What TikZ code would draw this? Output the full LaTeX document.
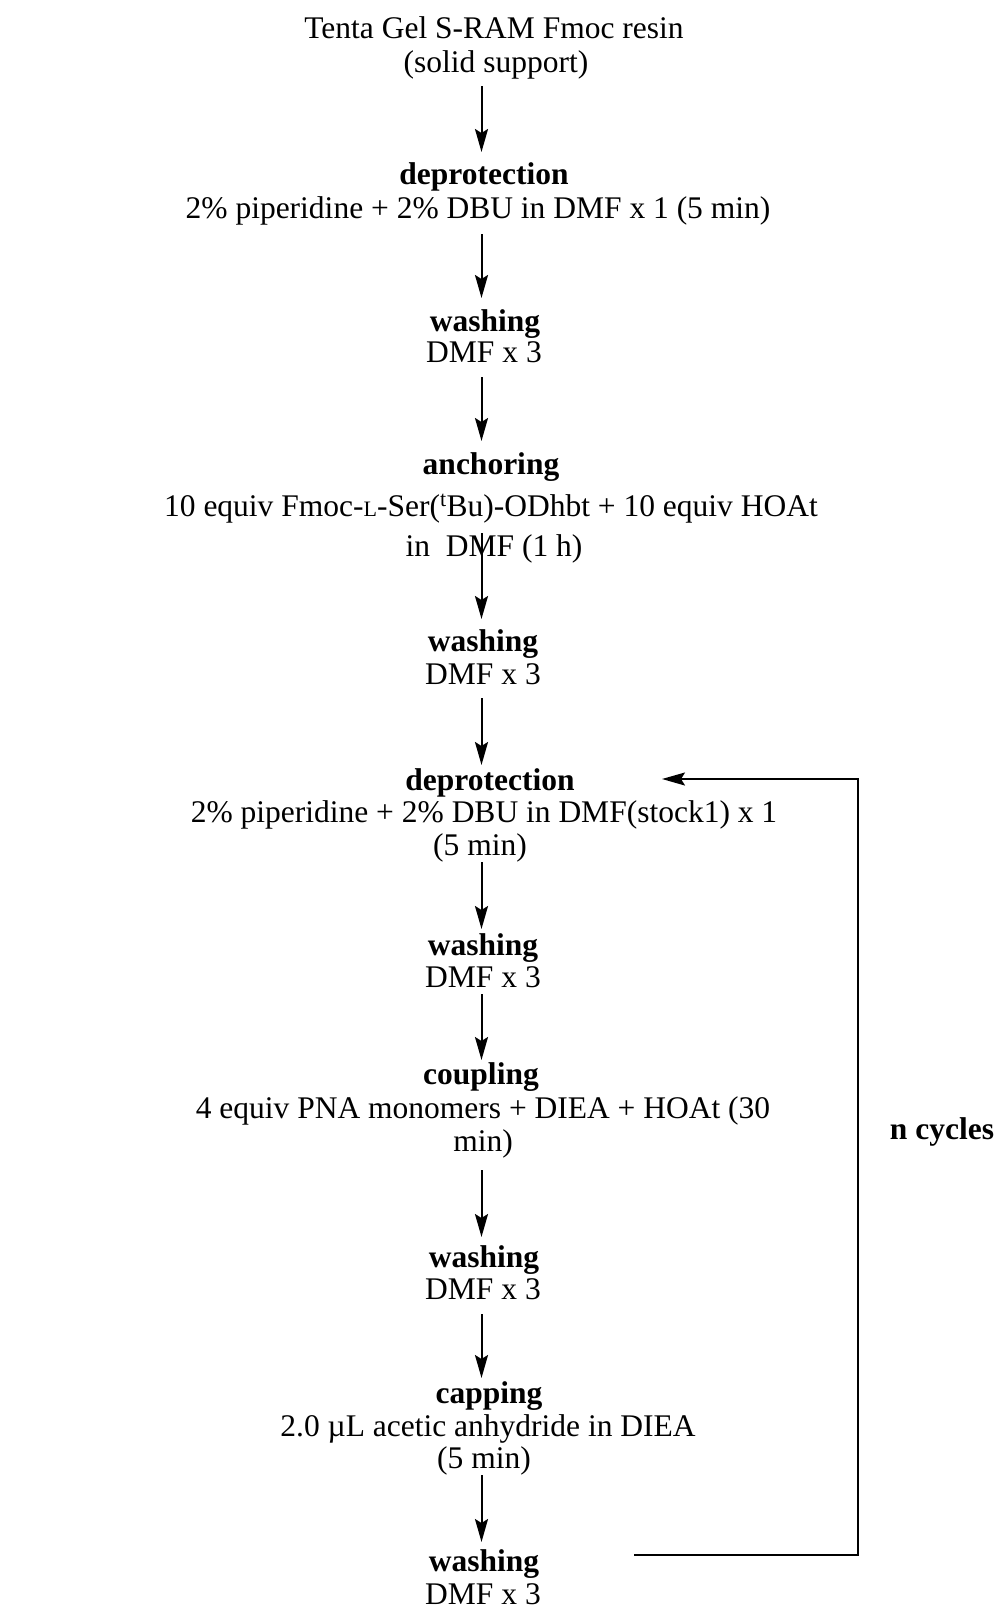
\documentclass[tikz,border=0pt]{standalone}
\usepackage{fontspec}
\setmainfont{Liberation Serif}
\usetikzlibrary{arrows.meta,calc}
\begin{document}
\begin{tikzpicture}[x=1pt,y=-1pt,
  txt/.style={font=\fontsize{31.5}{33}\selectfont, inner sep=0pt, anchor=base},
  hd/.style={txt, font=\fontsize{31.5}{33}\selectfont\bfseries},
  arr/.style={line width=2pt, -{Stealth[length=23pt,width=13pt,inset=4pt]}}]
\useasboundingbox (0,0) rectangle (1002,1609);
\coordinate (ax) at (481.5,0);
% step 0
\node[txt] (t1) at (494,38) {Tenta Gel S-RAM Fmoc resin};
\node[txt] (t2) at (496,72) {(solid support)};
% step 1
\node[hd]  (h1) at (484,184) {deprotection};
\node[txt] (d1) at (478,218) {2\% piperidine + 2\% DBU in DMF x 1 (5 min)};
% step 2
\node[hd]  (h2) at (485,331) {washing};
\node[txt] (d2) at (484,362) {DMF x 3};
% step 3
\node[hd]  (h3) at (491,474) {anchoring};
\node[txt] (d3) at (491,516) {10 equiv Fmoc-{\fontsize{22}{22}\selectfont L}-Ser(\textsuperscript{t}Bu)-ODhbt + 10 equiv HOAt};
\node[txt] (d3b) at (494,556) {in\ \ DMF (1 h)};
% step 4
\node[hd]  (h4) at (483,651) {washing};
\node[txt] (d4) at (483,684) {DMF x 3};
% step 5
\node[hd]  (h5) at (490,790) {deprotection};
\node[txt] (d5) at (484,822) {2\% piperidine + 2\% DBU in DMF(stock1) x 1};
\node[txt] (d5b) at (480,855) {(5 min)};
% step 6
\node[hd]  (h6) at (483,955) {washing};
\node[txt] (d6) at (483,987) {DMF x 3};
% step 7
\node[hd]  (h7) at (481,1084) {coupling};
\node[txt] (d7) at (483,1118) {4 equiv PNA monomers + DIEA + HOAt (30};
\node[txt] (d7b) at (483,1151) {min)};
% step 8
\node[hd]  (h8) at (484,1267) {washing};
\node[txt] (d8) at (483,1299) {DMF x 3};
% step 9
\node[hd]  (h9) at (489,1403) {capping};
\node[txt] (d9) at (488,1436) {2.0 µL acetic anhydride in DIEA};
\node[txt] (d9b) at (484,1468) {(5 min)};
% step 10
\node[hd]  (h10) at (484,1571) {washing};
\node[txt] (d10) at (483,1604) {DMF x 3};
% cycles label
\node[hd] (nc) at (942,1139) {n cycles};
% arrows
\draw[arr] ($(t2.base -| ax)+(0,14)$) -- ($(h1.base -| ax)+(0,-32)$);
\draw[arr] ($(d1.base -| ax)+(0,16)$) -- ($(h2.base -| ax)+(0,-33)$);
\draw[arr] ($(d2.base -| ax)+(0,15)$) -- ($(h3.base -| ax)+(0,-33)$);
\draw[arr] ($(d3b.base -| ax)+(0,-23)$) -- ($(h4.base -| ax)+(0,-32)$);
\draw[arr] ($(d4.base -| ax)+(0,14)$) -- ($(h5.base -| ax)+(0,-25)$);
\draw[arr] ($(d5b.base -| ax)+(0,7)$) -- ($(h6.base -| ax)+(0,-26)$);
\draw[arr] ($(d6.base -| ax)+(0,7)$) -- ($(h7.base -| ax)+(0,-24)$);
\draw[arr] ($(d7b.base -| ax)+(0,19)$) -- ($(h8.base -| ax)+(0,-30)$);
\draw[arr] ($(d8.base -| ax)+(0,15)$) -- ($(h9.base -| ax)+(0,-25)$);
\draw[arr] ($(d9b.base -| ax)+(0,7)$) -- ($(h10.base -| ax)+(0,-29)$);
% loop back
\coordinate (ls) at ($(h10.base)+(150,-16)$);
\coordinate (lr) at (858,0);
\draw[arr] (ls) -- (ls -| lr) -- ($(h5.base -| lr)+(0,-11)$) -- ($(h5.base)+(172,-11)$);
\end{tikzpicture}
\end{document}
